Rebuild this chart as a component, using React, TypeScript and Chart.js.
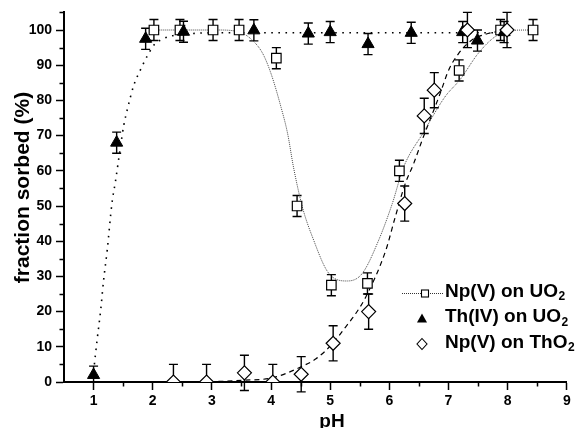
import React, { useEffect, useRef } from "react";
import { Chart, registerables } from "chart.js";
Chart.register(...registerables);

// ---------- data ----------
// Np(V) on UO2 (open squares)
const npUO2X = [2.02, 2.46, 3.02, 3.46, 4.09, 4.44, 5.02, 5.63, 6.17, 7.18, 7.88, 8.43];
const npUO2Y = [100, 100, 100, 100, 92, 50, 27.5, 28, 60, 88.5, 100, 100];
const npUO2ErrUp = [3, 3, 3, 3, 3, 3, 3, 3, 3, 3, 3, 3];
const npUO2ErrDown = [3, 3, 3, 3, 3, 3, 3, 3, 3, 3, 3, 3];

// Th(IV) on UO2 (filled triangles)
const thUO2X = [1.0, 1.39, 1.88, 2.52, 3.71, 4.63, 5.0, 5.64, 6.37, 7.24, 7.49, 7.94];
const thUO2Y = [2, 68, 97.5, 99.5, 99.9, 99, 99.4, 96, 99.2, 99.4, 97, 99.4];
const thUO2ErrUp = [2.5, 3, 3, 3, 3, 3, 3, 3, 3, 3, 3, 3];
const thUO2ErrDown = [2, 3, 3, 3, 3, 3, 3, 3, 3, 3, 3, 3];

// Np(V) on ThO2 (open diamonds)
const npThO2X = [2.35, 2.91, 3.55, 4.03, 4.51, 5.05, 5.65, 6.26, 6.59, 6.76, 7.32, 7.99];
const npThO2Y = [0, 0, 2.6, 0, 2.2, 11, 20, 50.7, 75.6, 82.9, 100, 100];
const npThO2ErrUp = [5, 5, 5, 5, 5, 5, 5, 5, 5, 5, 5, 5];
const npThO2ErrDown = [0, 0, 5, 0, 5, 5, 5, 5, 5, 5, 5, 5];

// fitted curves
const npUO2FitX = [2.0, 3.1, 3.47, 3.69, 3.86, 4.0, 4.17, 4.28, 4.38, 4.53, 4.7, 4.98, 5.29, 5.54, 5.82, 6.05, 6.24, 6.58, 6.94, 7.2, 7.5, 7.78, 8.06, 8.45];
const npUO2FitY = [100, 100, 99.4, 97, 93.3, 87.6, 78, 70.6, 61, 49.7, 41.2, 30.8, 28.7, 30.8, 40.3, 50.7, 61, 71, 81, 86, 93.3, 98, 99.9, 100];

const thUO2FitX = [1.0, 1.06, 1.12, 1.17, 1.23, 1.31, 1.37, 1.45, 1.51, 1.57, 1.68, 1.79, 1.93, 2.04, 2.15, 2.29, 2.68, 3.0, 8.0];
const thUO2FitY = [3, 12, 20.4, 29, 37.4, 50.7, 57, 66.3, 72.9, 77.4, 84.3, 88.6, 93.3, 96.1, 97.3, 98.2, 99, 99.2, 99.2];

const npThO2FitX = [2.35, 3.0, 3.52, 4.03, 4.53, 4.76, 5.04, 5.26, 5.43, 5.6, 5.94, 6.1, 6.27, 6.41, 6.55, 6.86, 7.0, 7.17, 7.39, 7.67, 7.95];
const npThO2FitY = [0, 0.1, 0.5, 1.2, 4.5, 6.6, 10.9, 15.6, 19.4, 24.1, 37.4, 46.9, 56.4, 62, 68.5, 82, 88.5, 93.3, 97.1, 99, 99.9];

// axes
const xTickValues = [1, 2, 3, 4, 5, 6, 7, 8, 9];
const xMinorTicks = [1.5, 2.5, 3.5, 4.5, 5.5, 6.5, 7.5, 8.5];
const yTickValues = [0, 10, 20, 30, 40, 50, 60, 70, 80, 90, 100];
const yMinorTicks = [5, 15, 25, 35, 45, 55, 65, 75, 85, 95, 105];
const xTitle = "pH";
const yTitle = "fraction sorbed (%)";

// legend
const legendText = ["Np(V) on UO", "Th(IV) on UO", "Np(V) on ThO"];
const legendSub = ["2", "2", "2"];

const FONT = '"Liberation Sans", Arial, Helvetica, sans-serif';

const pts = (xs: number[], ys: number[]) => xs.map((x, i) => ({ x, y: ys[i] }));

export default function App() {
  const ref = useRef<HTMLCanvasElement>(null);

  useEffect(() => {
    const canvas = ref.current!;

    const errorBars = {
      id: "errorBars",
      beforeDatasetsDraw(chart: any) {
        const { ctx, scales } = chart;
        const xs = scales.x;
        const ys = scales.y;
        ctx.save();
        ctx.strokeStyle = "#000";
        ctx.lineWidth = 1.4;
        chart.data.datasets.forEach((ds: any) => {
          if (!ds.errUp) return;
          ds.data.forEach((p: any, j: number) => {
            const px = xs.getPixelForValue(p.x);
            const top = ys.getPixelForValue(p.y + ds.errUp[j]);
            const bot = ys.getPixelForValue(p.y - ds.errDown[j]);
            ctx.beginPath();
            ctx.moveTo(px, top);
            ctx.lineTo(px, bot);
            ctx.moveTo(px - 4.5, top);
            ctx.lineTo(px + 4.5, top);
            if (ds.errDown[j] > 0) {
              ctx.moveTo(px - 4.5, bot);
              ctx.lineTo(px + 4.5, bot);
            }
            ctx.stroke();
          });
        });
        ctx.restore();
      },
    };

    const decorations = {
      id: "decorations",
      afterDraw(chart: any) {
        const { ctx, chartArea, scales } = chart;
        const xs = scales.x;
        const ys = scales.y;
        ctx.save();
        // minor ticks
        ctx.strokeStyle = "#000";
        ctx.lineWidth = 1.5;
        ctx.beginPath();
        yMinorTicks.forEach((v) => {
          const py = Math.round(ys.getPixelForValue(v)) + 0.5;
          ctx.moveTo(chartArea.left - 4.5, py);
          ctx.lineTo(chartArea.left, py);
        });
        xMinorTicks.forEach((v) => {
          const px = Math.round(xs.getPixelForValue(v)) + 0.5;
          ctx.moveTo(px, chartArea.bottom);
          ctx.lineTo(px, chartArea.bottom + 4.5);
        });
        ctx.stroke();

        // axis titles
        ctx.fillStyle = "#000";
        ctx.font = `bold 19px ${FONT}`;
        ctx.textAlign = "center";
        ctx.textBaseline = "alphabetic";
        ctx.fillText(xTitle, 332, 426.5);

        ctx.save();
        ctx.translate(28.5, 187.5);
        ctx.rotate(-Math.PI / 2);
        ctx.font = `bold 21px ${FONT}`;
        ctx.fillText(yTitle, 0, 0);
        ctx.restore();

        // legend
        const baselines = [296.5, 322, 347.5];
        const textX = 445;
        ctx.textAlign = "left";
        legendText.forEach((t, i) => {
          const b = baselines[i];
          ctx.font = `bold 19px ${FONT}`;
          ctx.fillText(t, textX, b);
          const w = ctx.measureText(t).width;
          ctx.font = `bold 12px ${FONT}`;
          ctx.fillText(legendSub[i], textX + w + 0.5, b + 3.5);
        });
        // symbols
        const sy = baselines.map((b) => b - 3.5);
        // row 1: dotted line + square
        ctx.strokeStyle = "#333";
        ctx.lineWidth = 1;
        ctx.setLineDash([1, 1]);
        ctx.beginPath();
        ctx.moveTo(402, sy[0] + 0.5);
        ctx.lineTo(443, sy[0] + 0.5);
        ctx.stroke();
        ctx.setLineDash([]);
        ctx.fillStyle = "#fff";
        ctx.strokeStyle = "#000";
        ctx.lineWidth = 1.1;
        ctx.fillRect(421.5, sy[0] - 3, 7, 7);
        ctx.strokeRect(421.5, sy[0] - 3, 7, 7);
        // row 2: triangle
        ctx.fillStyle = "#000";
        ctx.beginPath();
        ctx.moveTo(422, sy[1] - 5);
        ctx.lineTo(427, sy[1] + 4);
        ctx.lineTo(417, sy[1] + 4);
        ctx.closePath();
        ctx.fill();
        // row 3: diamond
        ctx.fillStyle = "#fff";
        ctx.beginPath();
        ctx.moveTo(422, sy[2] - 5.5);
        ctx.lineTo(427, sy[2]);
        ctx.lineTo(422, sy[2] + 5.5);
        ctx.lineTo(417, sy[2]);
        ctx.closePath();
        ctx.fill();
        ctx.stroke();
        ctx.restore();
      },
    };

    Chart.defaults.font.family = FONT;
    Chart.defaults.color = "#000";

    const chart = new Chart(canvas, {
      type: "scatter",
      data: {
        datasets: [
          {
            label: "Np(V) on ThO2",
            data: pts(npThO2X, npThO2Y),
            errUp: npThO2ErrUp,
            errDown: npThO2ErrDown,
            pointStyle: "rectRot",
            pointRadius: 7,
            backgroundColor: "#fff",
            borderColor: "#000",
            borderWidth: 1.2,
            showLine: false,
            order: 0,
          } as any,
          {
            label: "Th(IV) on UO2",
            data: pts(thUO2X, thUO2Y),
            errUp: thUO2ErrUp,
            errDown: thUO2ErrDown,
            pointStyle: "triangle",
            pointRadius: 7,
            backgroundColor: "#000",
            borderColor: "#000",
            borderWidth: 1,
            showLine: false,
            order: 1,
          } as any,
          {
            label: "Np(V) on UO2",
            data: pts(npUO2X, npUO2Y),
            errUp: npUO2ErrUp,
            errDown: npUO2ErrDown,
            pointStyle: "rect",
            pointRadius: 6.7,
            backgroundColor: "#fff",
            borderColor: "#000",
            borderWidth: 1.2,
            showLine: false,
            order: 2,
          } as any,
          {
            label: "fit Np UO2",
            data: pts(npUO2FitX, npUO2FitY),
            showLine: true,
            pointRadius: 0,
            borderColor: "#444",
            borderWidth: 1,
            borderDash: [1, 1],
            cubicInterpolationMode: "monotone",
            order: 3,
          } as any,
          {
            label: "fit Th UO2",
            data: pts(thUO2FitX, thUO2FitY),
            showLine: true,
            pointRadius: 0,
            borderColor: "#000",
            borderWidth: 1.6,
            borderDash: [1.6, 5.5],
            cubicInterpolationMode: "monotone",
            order: 4,
          } as any,
          {
            label: "fit Np ThO2",
            data: pts(npThO2FitX, npThO2FitY),
            showLine: true,
            pointRadius: 0,
            borderColor: "#000",
            borderWidth: 1.2,
            borderDash: [5, 4],
            cubicInterpolationMode: "monotone",
            order: 5,
          } as any,
        ],
      },
      options: {
        animation: false,
        responsive: true,
        maintainAspectRatio: false,
        events: [],
        layout: { padding: { top: 12, right: 6, left: 0, bottom: 0 } },
        plugins: {
          legend: { display: false },
          tooltip: { enabled: false },
        },
        scales: {
          x: {
            type: "linear",
            min: 0.5,
            max: 9,
            afterFit: (s: any) => {
              s.height = 46;
            },
            afterBuildTicks: (s: any) => {
              s.ticks = xTickValues.map((v) => ({ value: v }));
            },
            ticks: {
              font: { size: 14, weight: "bold" },
              color: "#000",
              padding: 3,
              maxRotation: 0,
              callback: (v: any) => String(v),
            },
            grid: {
              drawOnChartArea: false,
              drawTicks: true,
              tickLength: 8,
              tickWidth: 1.5,
              tickColor: "#000",
              color: "#000",
            },
            border: { display: true, color: "#000", width: 2 },
          },
          y: {
            type: "linear",
            min: 0,
            max: 105,
            afterFit: (s: any) => {
              s.width = 64;
            },
            afterBuildTicks: (s: any) => {
              s.ticks = yTickValues.map((v) => ({ value: v }));
            },
            ticks: {
              font: { size: 14, weight: "bold" },
              color: "#000",
              padding: 4,
              callback: (v: any) => String(v),
            },
            grid: {
              drawOnChartArea: false,
              drawTicks: true,
              tickLength: 8,
              tickWidth: 1.5,
              tickColor: "#000",
              color: "#000",
            },
            border: { display: true, color: "#000", width: 2 },
          },
        },
      } as any,
      plugins: [errorBars, decorations],
    });

    return () => chart.destroy();
  }, []);

  return (
    <div
      style={{
        position: "fixed",
        left: 0,
        top: 0,
        width: 575,
        height: 428,
        background: "#fff",
      }}
    >
      <canvas ref={ref} />
    </div>
  );
}
